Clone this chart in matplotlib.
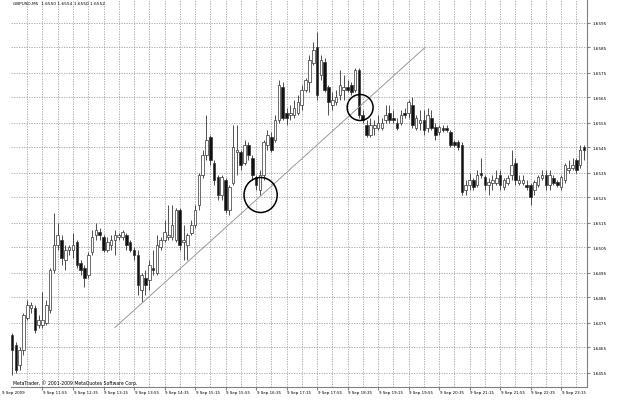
import matplotlib
matplotlib.use("Agg")
import matplotlib.pyplot as plt
from matplotlib.patches import Ellipse

# GBPUSD M5, 9 Sep 2009, bars from 11:15
opens = [1.6470, 1.6466, 1.6458, 1.6464, 1.6477, 1.6481, 1.6481, 1.6474, 1.6474, 1.6475,
         1.6480, 1.6496, 1.6506, 1.6508, 1.6500, 1.6504, 1.6504, 1.6507, 1.6499, 1.6497,
         1.6494, 1.6503, 1.6510, 1.6511, 1.6509, 1.6504, 1.6506, 1.6508, 1.6509, 1.6509,
         1.6510, 1.6507, 1.6504, 1.6502, 1.6488, 1.6493, 1.6492, 1.6497, 1.6495, 1.6505,
         1.6508, 1.6509, 1.6509, 1.6508, 1.6520, 1.6507, 1.6506, 1.6511, 1.6514, 1.6522,
         1.6534, 1.6542, 1.6549, 1.6539, 1.6533, 1.6526, 1.6532, 1.6520, 1.6531, 1.6543,
         1.6543, 1.6539, 1.6546, 1.6541, 1.6533, 1.6528, 1.6534, 1.6546, 1.6549, 1.6548,
         1.6556, 1.6569, 1.6559, 1.6558, 1.6558, 1.6559, 1.6562, 1.6568, 1.6571, 1.6579,
         1.6585, 1.6574, 1.6579, 1.6569, 1.6562, 1.6563, 1.6566, 1.6568, 1.6569, 1.6570,
         1.6568, 1.6576, 1.6558, 1.6554, 1.6550, 1.6553, 1.6553, 1.6553, 1.6556, 1.6559,
         1.6557, 1.6555, 1.6555, 1.6559, 1.6559, 1.6562, 1.6553, 1.6555, 1.6556, 1.6553,
         1.6557, 1.6553, 1.6551, 1.6553, 1.6553, 1.6551, 1.6547, 1.6547, 1.6546, 1.6528,
         1.6530, 1.6532, 1.6530, 1.6535, 1.6533, 1.6530, 1.6531, 1.6531, 1.6534, 1.6529,
         1.6531, 1.6534, 1.6539, 1.6531, 1.6531, 1.6530, 1.6530, 1.6528, 1.6530, 1.6533,
         1.6534, 1.6530, 1.6533, 1.6531, 1.6529, 1.6532, 1.6536, 1.6537, 1.6540, 1.6538,
         1.6545]
highs = [1.6471, 1.6467, 1.6465, 1.6479, 1.6484, 1.6483, 1.6482, 1.6478, 1.6487, 1.6484,
         1.6497, 1.6519, 1.6515, 1.6510, 1.6506, 1.6506, 1.6511, 1.6508, 1.6500, 1.6498,
         1.6503, 1.6512, 1.6515, 1.6513, 1.6510, 1.6509, 1.6510, 1.6512, 1.6511, 1.6512,
         1.6511, 1.6508, 1.6505, 1.6504, 1.6495, 1.6496, 1.6500, 1.6504, 1.6510, 1.6509,
         1.6516, 1.6522, 1.6522, 1.6521, 1.6521, 1.6514, 1.6511, 1.6516, 1.6522, 1.6535,
         1.6544, 1.6558, 1.6550, 1.6540, 1.6534, 1.6534, 1.6533, 1.6530, 1.6554, 1.6554,
         1.6544, 1.6548, 1.6547, 1.6542, 1.6534, 1.6536, 1.6548, 1.6552, 1.6551, 1.6558,
         1.6572, 1.6571, 1.6561, 1.6562, 1.6564, 1.6566, 1.6570, 1.6573, 1.6582, 1.6587,
         1.6591, 1.6582, 1.6581, 1.6570, 1.6567, 1.6568, 1.6576, 1.6574, 1.6572, 1.6571,
         1.6577, 1.6577, 1.6560, 1.6556, 1.6557, 1.6556, 1.6558, 1.6557, 1.6562, 1.6562,
         1.6560, 1.6557, 1.6560, 1.6561, 1.6564, 1.6565, 1.6558, 1.6560, 1.6560, 1.6561,
         1.6560, 1.6555, 1.6554, 1.6554, 1.6554, 1.6552, 1.6548, 1.6548, 1.6547, 1.6532,
         1.6535, 1.6533, 1.6536, 1.6541, 1.6534, 1.6533, 1.6534, 1.6536, 1.6536, 1.6533,
         1.6534, 1.6544, 1.6541, 1.6534, 1.6534, 1.6532, 1.6531, 1.6532, 1.6534, 1.6536,
         1.6536, 1.6536, 1.6534, 1.6532, 1.6534, 1.6539, 1.6540, 1.6541, 1.6541, 1.6546,
         1.6546]
lows = [1.6454, 1.6455, 1.6456, 1.6462, 1.6476, 1.6479, 1.6471, 1.6473, 1.6473, 1.6474,
        1.6479, 1.6495, 1.6504, 1.6498, 1.6496, 1.6502, 1.6501, 1.6497, 1.6494, 1.6489,
        1.6493, 1.6502, 1.6508, 1.6508, 1.6503, 1.6503, 1.6504, 1.6502, 1.6508, 1.6508,
        1.6504, 1.6503, 1.6500, 1.6486, 1.6483, 1.6486, 1.6488, 1.6494, 1.6494, 1.6504,
        1.6507, 1.6508, 1.6508, 1.6507, 1.6504, 1.6500, 1.6500, 1.6510, 1.6513, 1.6520,
        1.6533, 1.6540, 1.6538, 1.6530, 1.6524, 1.6524, 1.6519, 1.6518, 1.6530, 1.6534,
        1.6536, 1.6538, 1.6540, 1.6532, 1.6528, 1.6526, 1.6532, 1.6544, 1.6543, 1.6547,
        1.6555, 1.6556, 1.6554, 1.6556, 1.6557, 1.6558, 1.6560, 1.6567, 1.6567, 1.6578,
        1.6564, 1.6572, 1.6567, 1.6558, 1.6560, 1.6562, 1.6564, 1.6564, 1.6567, 1.6566,
        1.6567, 1.6557, 1.6555, 1.6549, 1.6549, 1.6550, 1.6552, 1.6552, 1.6555, 1.6555,
        1.6555, 1.6552, 1.6554, 1.6557, 1.6557, 1.6553, 1.6552, 1.6552, 1.6550, 1.6551,
        1.6552, 1.6548, 1.6550, 1.6551, 1.6551, 1.6545, 1.6545, 1.6544, 1.6526, 1.6526,
        1.6528, 1.6528, 1.6529, 1.6533, 1.6528, 1.6526, 1.6528, 1.6530, 1.6528, 1.6528,
        1.6530, 1.6532, 1.6530, 1.6530, 1.6530, 1.6528, 1.6522, 1.6526, 1.6529, 1.6532,
        1.6528, 1.6528, 1.6530, 1.6529, 1.6528, 1.6531, 1.6535, 1.6536, 1.6535, 1.6537,
        1.6540]
closes = [1.6464, 1.6456, 1.6464, 1.6478, 1.6482, 1.6482, 1.6472, 1.6476, 1.6476, 1.6482,
          1.6496, 1.6506, 1.6510, 1.6501, 1.6504, 1.6505, 1.6506, 1.6498, 1.6496, 1.6493,
          1.6502, 1.6509, 1.6512, 1.6510, 1.6504, 1.6507, 1.6508, 1.6510, 1.6510, 1.6511,
          1.6506, 1.6504, 1.6502, 1.6490, 1.6494, 1.6490, 1.6498, 1.6496, 1.6506, 1.6508,
          1.6511, 1.6510, 1.6514, 1.6520, 1.6506, 1.6508, 1.6510, 1.6514, 1.6520, 1.6534,
          1.6542, 1.6548, 1.6540, 1.6532, 1.6526, 1.6533, 1.6520, 1.6529, 1.6545, 1.6544,
          1.6538, 1.6546, 1.6542, 1.6534, 1.6530, 1.6534, 1.6547, 1.6550, 1.6544, 1.6556,
          1.6570, 1.6557, 1.6557, 1.6559, 1.6561, 1.6563, 1.6568, 1.6572, 1.6580, 1.6584,
          1.6566, 1.6580, 1.6568, 1.6563, 1.6564, 1.6565, 1.6570, 1.6569, 1.6568, 1.6567,
          1.6576, 1.6558, 1.6556, 1.6550, 1.6554, 1.6554, 1.6555, 1.6555, 1.6558, 1.6556,
          1.6556, 1.6553, 1.6558, 1.6558, 1.6563, 1.6554, 1.6557, 1.6556, 1.6552, 1.6558,
          1.6553, 1.6550, 1.6553, 1.6552, 1.6552, 1.6546, 1.6546, 1.6545, 1.6527, 1.6530,
          1.6532, 1.6529, 1.6534, 1.6534, 1.6530, 1.6531, 1.6532, 1.6533, 1.6530, 1.6532,
          1.6533, 1.6538, 1.6532, 1.6532, 1.6532, 1.6529, 1.6525, 1.6531, 1.6533, 1.6534,
          1.6530, 1.6534, 1.6531, 1.6530, 1.6533, 1.6538, 1.6537, 1.6538, 1.6536, 1.6544,
          1.6544]

price_levels = [1.6455, 1.6465, 1.6475, 1.6485, 1.6495, 1.6505, 1.6515, 1.6525,
                1.6535, 1.6545, 1.6555, 1.6565, 1.6575, 1.6585, 1.6595]
time_labels = ["9 Sep 11:55", "9 Sep 12:35", "9 Sep 13:15", "9 Sep 13:55", "9 Sep 14:35",
               "9 Sep 15:15", "9 Sep 15:55", "9 Sep 16:35", "9 Sep 17:15", "9 Sep 17:55",
               "9 Sep 18:35", "9 Sep 19:15", "9 Sep 19:55", "9 Sep 20:35", "9 Sep 21:15",
               "9 Sep 21:55", "9 Sep 22:35", "9 Sep 23:15"]
label_bars = [8, 16, 24, 32, 40, 48, 56, 64, 72, 80, 88, 96, 104, 112, 120, 128, 136, 144]

trend_x = [27.0, 108.3]
trend_y = [1.6473, 1.6585]
circle1 = (65.2, 1.6526)
circle2 = (91.3, 1.6561)

fig = plt.figure(figsize=(6.21, 4.02), dpi=100)
ax = fig.add_axes([11/621, 14/402, 576/621, 388/402])
ax.set_xlim(-0.26, 150.8)
ax.set_ylim(1.64492, 1.66044)

gc = '#a0a0a0'
for p in price_levels:
    ax.axhline(p, color=gc, lw=0.6, ls=(0, (1.5, 1.5)), zorder=0)
for b in range(4, 151, 4):
    ax.axvline(b, color=gc, lw=0.6, ls=(0, (1.5, 1.5)), zorder=0)

bars = list(range(len(opens)))
ax.vlines(bars, lows, highs, color='#333333', lw=0.6, zorder=2)
bottoms = [min(o, c) for o, c in zip(opens, closes)]
heights = [max(abs(c - o), 0.00003) for o, c in zip(opens, closes)]
colors = ['white' if c >= o else '#111111' for o, c in zip(opens, closes)]
ax.bar(bars, heights, bottom=bottoms, width=0.68, color=colors,
       edgecolor='#333333', lw=0.5, zorder=3)

ax.plot(trend_x, trend_y, color='#999999', lw=0.7, zorder=4)
ax.add_patch(Ellipse(circle1, 8.7, 0.0014, fill=False, ec='black', lw=1.1, zorder=5))
ax.add_patch(Ellipse(circle2, 6.8, 0.00104, fill=False, ec='black', lw=1.1, zorder=5))

for s in ['top', 'left']:
    ax.spines[s].set_visible(False)
for s in ['right', 'bottom']:
    ax.spines[s].set_color('#808080')
    ax.spines[s].set_linewidth(0.8)

ax.set_yticks(price_levels)
ax.set_yticklabels(['%.4f' % p for p in price_levels])
ax.tick_params(axis='y', left=False, labelleft=False, right=True, labelright=True,
               labelsize=3.0, length=2, pad=2, color='#808080')
ax.set_xticks(label_bars)
ax.set_xticklabels([])
ax.tick_params(axis='x', length=2, color='#808080')

for b, lab in zip(label_bars, time_labels):
    ax.text(b + 0.2, -0.008, lab, transform=ax.get_xaxis_transform(),
            ha='left', va='top', fontsize=2.9)
ax.text(-9/576, -0.008, "9 Sep 2009", transform=ax.transAxes,
        ha='left', va='top', fontsize=2.9)

ax.text(0.004, 0.996, "GBPUSD,M5  1.6550 1.6554 1.6550 1.6552", transform=ax.transAxes,
        ha='left', va='top', fontsize=3.1)
ax.text(0.004, 0.013, "MetaTrader, \u00a9 2001-2009 MetaQuotes Software Corp.",
        transform=ax.transAxes, ha='left', va='center', fontsize=3.3)

fig.savefig("out.png", dpi=100)
